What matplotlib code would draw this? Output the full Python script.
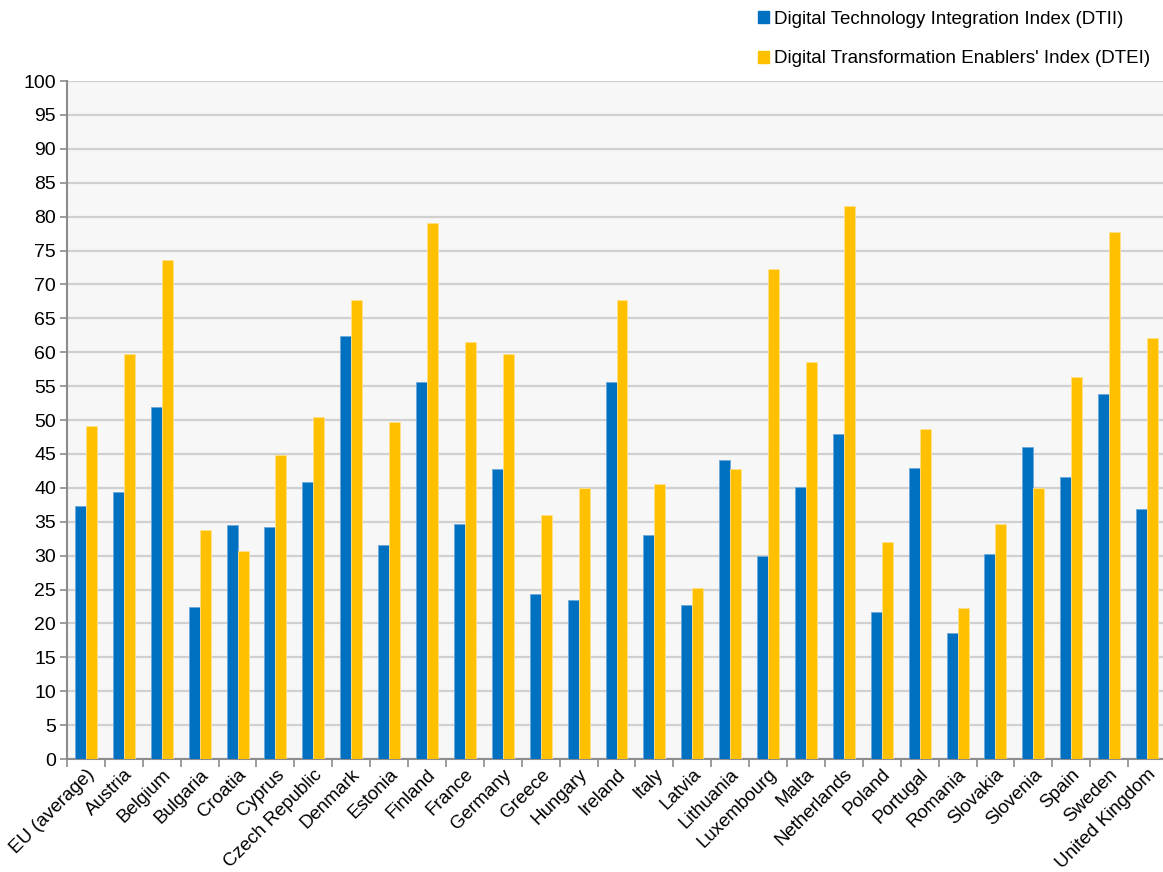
import matplotlib.pyplot as plt
import matplotlib.patches as mpatches
import numpy as np

plt.rcParams['font.family'] = ['Liberation Sans', 'DejaVu Sans']

countries = ['EU (average)', 'Austria', 'Belgium', 'Bulgaria', 'Croatia', 'Cyprus',
             'Czech Republic', 'Denmark', 'Estonia', 'Finland', 'France', 'Germany',
             'Greece', 'Hungary', 'Ireland', 'Italy', 'Latvia', 'Lithuania',
             'Luxembourg', 'Malta', 'Netherlands', 'Poland', 'Portugal', 'Romania',
             'Slovakia', 'Slovenia', 'Spain', 'Sweden', 'United Kingdom']

dtii = [37.3, 39.4, 51.9, 22.4, 34.5, 34.2, 40.8, 62.4, 31.6, 55.6, 34.7, 42.8,
        24.4, 23.5, 55.6, 33.0, 22.7, 44.1, 29.9, 40.1, 48.0, 21.7, 42.9, 18.6,
        30.2, 46.0, 41.6, 53.8, 36.9]
dtei = [49.1, 59.8, 73.6, 33.8, 30.7, 44.8, 50.5, 67.7, 49.7, 79.0, 61.5, 59.8,
        36.0, 39.9, 67.7, 40.6, 25.2, 42.7, 72.3, 58.5, 81.6, 32.0, 48.6, 22.2,
        34.6, 40.0, 56.3, 77.7, 62.1]

yticks = list(range(0, 101, 5))

blue = '#0070C0'
yellow = '#FFC000'

fig = plt.figure(figsize=(11.63, 8.72), dpi=100)
ax = fig.add_axes([67 / 1163, 113 / 872, 1099 / 1163, 678 / 872])
ax.set_facecolor('#F7F7F7')

x = np.arange(len(countries))
w = 0.29
ax.bar(x - w / 2, dtii, w, color=blue, edgecolor='#6FA8DC', linewidth=0.6, zorder=3,
       label='Digital Technology Integration Index (DTII)')
ax.bar(x + w / 2, dtei, w, color=yellow, edgecolor='#FFE08A', linewidth=0.6, zorder=3,
       label="Digital Transformation Enablers' Index (DTEI)")

ax.set_xlim(-0.5, len(countries) - 0.5)
ax.set_ylim(0, 100)
ax.set_yticks(yticks)
ax.yaxis.grid(True, color='#D0D0D0', linewidth=1.6, zorder=0)
ax.set_axisbelow(True)

for side in ['top', 'right']:
    ax.spines[side].set_visible(False)
for side in ['left', 'bottom']:
    ax.spines[side].set_color('#8C8C8C')
    ax.spines[side].set_linewidth(1.5)

# category ticks sit on the group boundaries, labels at the centres
ax.set_xticks(np.arange(len(countries) + 1) - 0.5)
ax.set_xticklabels([])
ax.set_xticks(x, minor=True)
ax.set_xticklabels(countries, minor=True, rotation=45, ha='right',
                   rotation_mode='anchor', fontsize=13.5)
ax.tick_params(axis='x', which='major', length=6, width=1.2, color='#8C8C8C')
ax.tick_params(axis='x', which='minor', length=0, pad=5)
ax.tick_params(axis='y', length=5, width=1.2, color='#8C8C8C', labelsize=14, pad=3)

handles = [mpatches.Patch(color=blue), mpatches.Patch(color=yellow)]
labels = ['Digital Technology Integration Index (DTII)',
          "Digital Transformation Enablers' Index (DTEI)"]
fig.legend(handles, labels, loc='upper left', bbox_to_anchor=(741 / 1163, 1 + 6 / 872),
           frameon=False, fontsize=13.5, handlelength=0.6, handleheight=0.6,
           handletextpad=0.25, labelspacing=1.2)

fig.savefig('out.png', dpi=100)
